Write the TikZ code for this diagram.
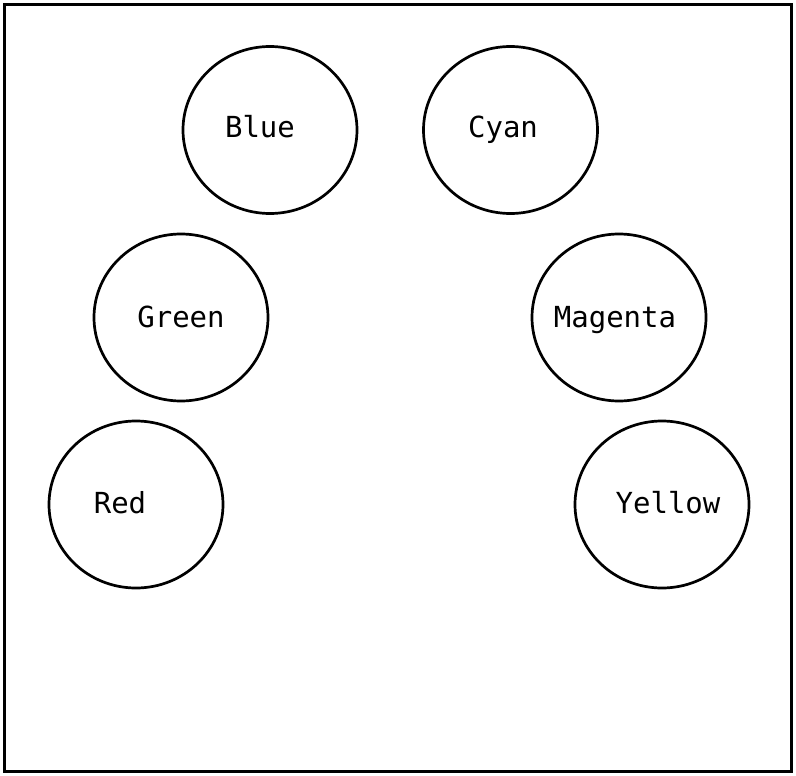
\documentclass[tikz,border=0pt]{standalone}
\usepackage{fontspec}
\newfontfamily\lblfont{DejaVu Sans Mono}
\usetikzlibrary{shapes.geometric}
\begin{document}
\begin{tikzpicture}[x=1pt,y=-1pt,
  ring/.style={draw, ellipse, line width=2.7pt, minimum width=174pt, minimum height=167pt, inner sep=0pt},
  lbl/.style={font=\lblfont\fontsize{29}{31}\selectfont, anchor=base, inner sep=0pt}]
\useasboundingbox (0,0) rectangle (796,776);
\node[draw, line width=2.8pt, minimum width=787pt, minimum height=767pt, inner sep=0pt] (frame) at (398,388) {};
\node[ring] (blue) at (270,130) {};
\node[ring] (cyan) at (510.5,130) {};
\node[ring] (green) at (181,317.5) {};
\node[ring] (magenta) at (619,317.5) {};
\node[ring] (red) at (136,504.5) {};
\node[ring] (yellow) at (662,504.5) {};
\node[lbl] (tblue) at (260,138) {Blue};
\node[lbl] (tcyan) at (503,138) {Cyan};
\node[lbl] (tgreen) at (181,327) {Green};
\node[lbl] (tmagenta) at (615,327) {Magenta};
\node[lbl] (tred) at (120,513) {Red};
\node[lbl] (tyellow) at (668,513) {Yellow};
\end{tikzpicture}
\end{document}
